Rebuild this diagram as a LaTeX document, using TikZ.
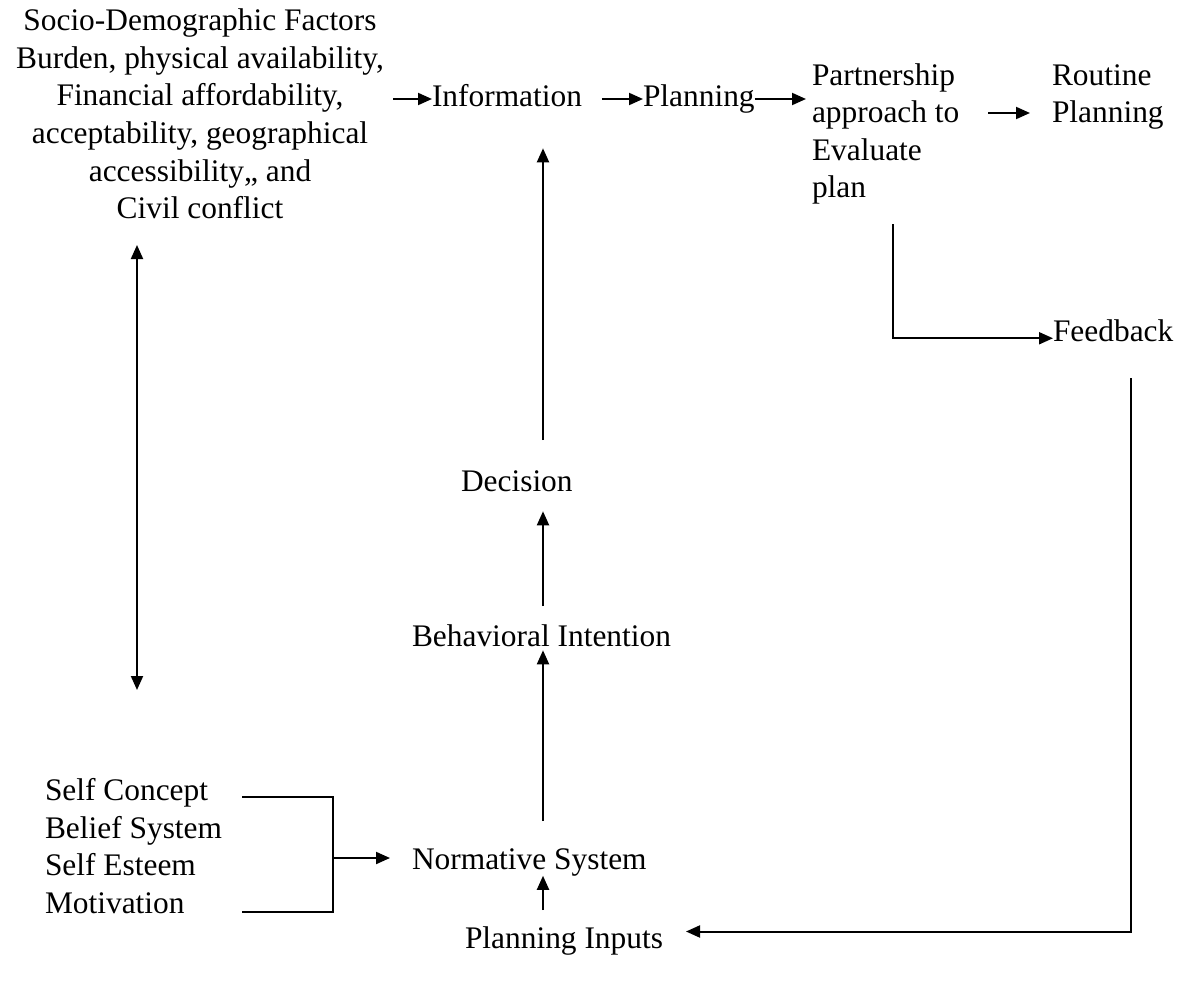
\documentclass[tikz,border=0pt]{standalone}
\usepackage{fontspec}
\setmainfont{Liberation Serif}
\usetikzlibrary{arrows.meta}
\begin{document}
\begin{tikzpicture}[x=1pt,y=-1pt,
  txt/.style={font=\fontsize{31.4}{37.6}\selectfont, inner sep=0pt, outer sep=0pt},
  arr/.style={line width=2pt, -{Triangle[length=14pt,width=12pt]}},
  arrboth/.style={line width=2pt, {Triangle[length=14pt,width=12pt]}-{Triangle[length=14pt,width=12pt]}},
  ln/.style={line width=2pt}]
\useasboundingbox (0,0) rectangle (1191,982);
\node[txt, align=center] (soc) at (200,114) {Socio-Demographic Factors\\Burden, physical availability,\\Financial affordability,\\acceptability, geographical\\accessibility,, and\\Civil conflict};
\node[txt, anchor=base west] (info) at (432,106) {Information};
\node[txt, anchor=base west] (plan) at (643,106) {Planning};
\node[txt, align=left, anchor=west] (partner) at (812,134) {Partnership\\approach to\\Evaluate\\plan};
\node[txt, align=left, anchor=west] (routine) at (1052,97) {Routine\\Planning};
\node[txt, anchor=base west] (feedback) at (1053,341) {Feedback};
\node[txt, anchor=base west] (decision) at (461,491) {Decision};
\node[txt, anchor=base west] (behav) at (412,646) {Behavioral Intention};
\node[txt, anchor=base west] (norm) at (412,869) {Normative System};
\node[txt, anchor=base west] (pinputs) at (465,948) {Planning Inputs};
\node[txt, align=left, anchor=west] (self) at (45,846) {Self Concept\\Belief System\\Self Esteem\\Motivation};

\coordinate (col) at (543,0);
\coordinate (row) at (0,99);
\coordinate (dtop) at (137,245);
\coordinate (dbot) at (137,690);
\coordinate (pcorner) at (893,224);
\coordinate (fcorner) at (1131,378);
\coordinate (brtop) at (242,797);
\coordinate (brbot) at (242,912);
\coordinate (brmid) at (333,858);
\coordinate (rstart) at (988,113);

\draw[arrboth] (dtop) -- (dbot);
\draw[arr] ([xshift=-39pt]info.west |- row) -- (info.west |- row);
\draw[arr] ([xshift=20pt]info.east |- row) -- (plan.west |- row);
\draw[arr] (plan.east |- row) -- ([xshift=-6pt]partner.west |- row);
\draw[arr] (rstart) -- ([xshift=-22pt]rstart -| routine.west);
\draw[arr] (pcorner) |- ([yshift=-8pt]feedback.west);
\draw[arr] (fcorner) |- ([xshift=23pt,yshift=9pt]pinputs.east);
\draw[arr] ([yshift=16pt]pinputs.north -| col) -- (norm.south -| col);
\draw[arr] ([yshift=27pt]norm.north -| col) -- ([yshift=-4pt]behav.south -| col);
\draw[arr] ([yshift=18pt]behav.north -| col) -- ([yshift=-20pt]decision.south -| col);
\draw[arr] ([yshift=30pt]decision.north -| col) -- ([yshift=-42pt]info.south -| col);
\draw[ln] (brtop) -- (brtop -| brmid) -- (brbot -| brmid) -- (brbot);
\draw[arr] (brmid) -- ([xshift=-22pt]norm.west |- brmid);
\end{tikzpicture}
\end{document}
